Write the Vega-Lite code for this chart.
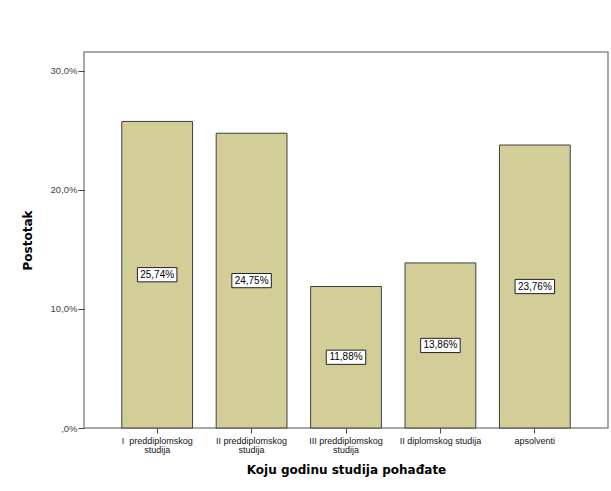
{
  "$schema": "https://vega.github.io/schema/vega-lite/v6.json",
  "width": 524,
  "height": 376,
  "autosize": "none",
  "padding": {"left": 84, "top": 52, "right": 3, "bottom": 63},
  "background": "white",
  "config": {
    "view": {"stroke": "#8c8c8c", "strokeWidth": 1.5},
    "font": "Liberation Sans"
  },
  "data": {
    "values": [
      {"godina": "I preddiplomskog studija", "postotak": 25.74},
      {"godina": "II preddiplomskog studija", "postotak": 24.75},
      {"godina": "III preddiplomskog studija", "postotak": 11.88},
      {"godina": "II diplomskog studija", "postotak": 13.86},
      {"godina": "apsolventi", "postotak": 23.76}
    ]
  },
  "encoding": {
    "x": {
      "field": "godina",
      "type": "nominal",
      "sort": null,
      "scale": {"paddingInner": 0.25, "paddingOuter": 0.4},
      "axis": {
        "title": "Koju godinu studija pohađate",
        "titleFont": "DejaVu Sans",
        "titleFontSize": 12,
        "titleFontWeight": "bold",
        "titleColor": "#000000",
        "titlePadding": 10,
        "labelAngle": 0,
        "labelFontSize": 9,
        "labelColor": "#111111",
        "labelLineHeight": 9,
        "labelPadding": 3,
        "labelExpr": "datum.value == 'I preddiplomskog studija' ? ['I\u00a0\u00a0preddiplomskog', 'studija'] : indexof(datum.value, 'preddiplomskog') >= 0 ? [replace(datum.value, ' studija', ''), 'studija'] : datum.value",
        "tickSize": 5,
        "tickColor": "#444444",
        "domain": false
      }
    }
  },
  "layer": [
    {
      "mark": {"type": "bar", "color": "#d3ce97", "stroke": "#3f3f3f", "strokeWidth": 1},
      "encoding": {
        "y": {
          "field": "postotak",
          "type": "quantitative",
          "scale": {"domain": [0, 31.57], "nice": false},
          "axis": {
            "title": "Postotak",
            "titleFont": "DejaVu Sans",
            "titleFontSize": 12,
            "titleFontWeight": "bold",
            "titleColor": "#000000",
            "titlePadding": 16,
            "values": [0, 10, 20, 30],
            "labelExpr": "datum.value == 0 ? ',0%' : replace(format(datum.value, '.1f'), '.', ',') + '%'",
            "labelFontSize": 9.5,
            "labelColor": "#444444",
            "labelPadding": 1,
            "tickSize": 6,
            "tickColor": "#444444",
            "grid": false,
            "domain": false
          }
        }
      }
    },
    {
      "transform": [{"calculate": "datum.postotak / 2", "as": "sredina"}],
      "mark": {
        "type": "point",
        "shape": "M-1,-0.36H1V0.36H-1Z",
        "size": 1560,
        "filled": true,
        "fill": "white",
        "stroke": "#222222",
        "strokeWidth": 1,
        "opacity": 1
      },
      "encoding": {
        "y": {"field": "sredina", "type": "quantitative"}
      }
    },
    {
      "transform": [
        {"calculate": "datum.postotak / 2", "as": "sredina"},
        {"calculate": "replace(format(datum.postotak, '.2f'), '.', ',') + '%'", "as": "oznaka"}
      ],
      "mark": {"type": "text", "fontSize": 10, "color": "#000000", "baseline": "middle", "align": "center"},
      "encoding": {
        "y": {"field": "sredina", "type": "quantitative"},
        "text": {"field": "oznaka", "type": "nominal"}
      }
    }
  ]
}
